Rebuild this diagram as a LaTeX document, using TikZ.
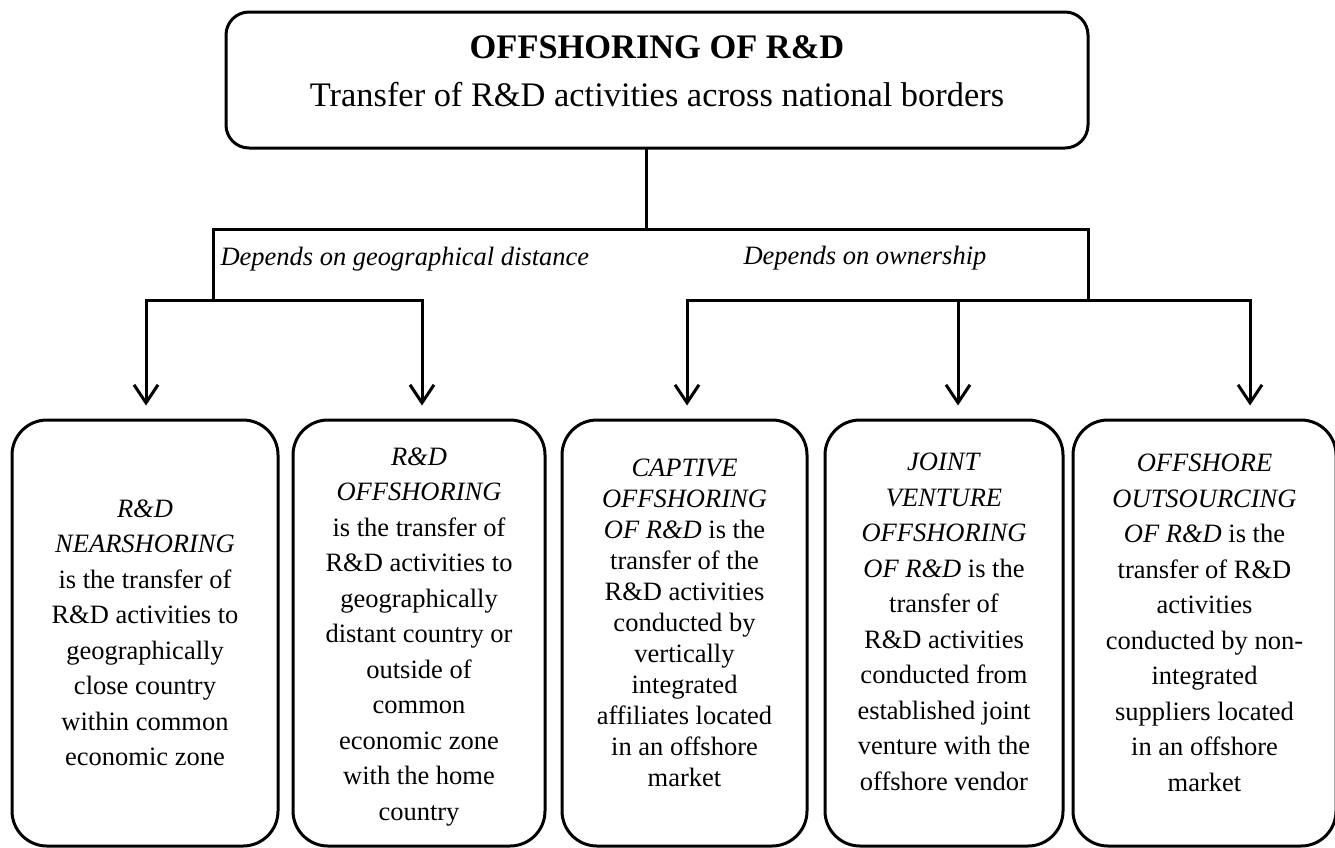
\documentclass[tikz,border=0pt]{standalone}
\usepackage{fontspec}
\setmainfont{Liberation Serif}
\usetikzlibrary{arrows.meta}
\begin{document}
\begin{tikzpicture}[x=1pt,y=-1pt,line width=3pt,line cap=rect,
  topbox/.style={draw,rounded corners=23pt,minimum width=862pt,minimum height=136pt,inner sep=0pt},
  subbox/.style={draw,rounded corners=35pt,minimum height=426pt,inner sep=0pt},
  boxtext/.style={inner sep=0pt,align=center,font=\fontsize{26.5}{35.5}\selectfont},
  tighttext/.style={font=\fontsize{26.5}{31}\selectfont},
  arr/.style={-{Straight Barb[length=18pt,width=24pt]},line cap=butt},
  lbl/.style={font=\fontsize{26.5}{30}\selectfont\itshape,inner sep=0pt,anchor=base west},
  ttl/.style={inner sep=0pt,anchor=base}]
\useasboundingbox (0,0) rectangle (1335,847);
\clip (0,0) rectangle (1335,847);
% top box
\node[topbox] (top) at (657,80) {};
\node[ttl,font=\fontsize{34.4}{40}\selectfont\bfseries] (title) at (657,58) {OFFSHORING OF R\&D};
\node[ttl,font=\fontsize{34.4}{40}\selectfont] (subtitle) at (657,106) {Transfer of R\&D activities across national borders};
% bottom boxes
\node[subbox,minimum width=266pt] (b1) at (145,633) {};
\node[subbox,minimum width=252pt] (b2) at (419,633) {};
\node[subbox,minimum width=245pt] (b3) at (684.5,633) {};
\node[subbox,minimum width=238pt] (b4) at (944,633) {};
\node[subbox,minimum width=263pt] (b5) at (1204.5,633) {};
% box texts
\node[boxtext] (t1) at (145,633) {\textit{R\&D}\\\textit{NEARSHORING}\\is the transfer of\\R\&D activities to\\geographically\\close country\\within common\\economic zone};
\node[boxtext] (t2) at (419,637) {\textit{R\&D}\\\textit{OFFSHORING}\\is the transfer of\\R\&D activities to\\geographically\\distant country or\\outside of\\common\\economic zone\\with the home\\country};
\node[boxtext,tighttext] (t3) at (684.5,623) {\textit{CAPTIVE}\\\textit{OFFSHORING}\\\textit{OF R\&D} is the\\transfer of the\\R\&D activities\\conducted by\\vertically\\integrated\\affiliates located\\in an offshore\\market};
\node[boxtext] (t4) at (944,622) {\textit{JOINT}\\\textit{VENTURE}\\\textit{OFFSHORING}\\\textit{OF R\&D} is the\\transfer of\\R\&D activities\\conducted from\\established joint\\venture with the\\offshore vendor};
\node[boxtext] (t5) at (1204.5,623) {\textit{OFFSHORE}\\\textit{OUTSOURCING}\\\textit{OF R\&D} is the\\transfer of R\&D\\activities\\conducted by non-\\integrated\\suppliers located\\in an offshore\\market};
% connector coordinates
\coordinate (j0) at (646,229);
\coordinate (jl) at (213,229);
\coordinate (jr) at (1088,229);
\coordinate (ll) at (213,300);
\coordinate (rl) at (1088,300);
\coordinate (a1) at (146,300);
\coordinate (a2) at (422,300);
\coordinate (a3) at (687,300);
\coordinate (a4) at (958,300);
\coordinate (a5) at (1250,300);
% connectors
\draw (top.south -| j0) -- (j0);
\draw (jl) -- (jr);
\draw (jl) -- (ll);
\draw (jr) -- (rl);
\draw (a1) -- (a2);
\draw (a3) -- (a5);
\foreach \a/\b in {a1/b1,a2/b2,a3/b3,a4/b4,a5/b5}
  \draw[arr,shorten >=13pt] (\a) -- (\a |- \b.north);
% labels
\node[lbl] (geo) at (219,265) {Depends on geographical distance};
\node[lbl] (own) at (742,264) {Depends on ownership};
\end{tikzpicture}
\end{document}
